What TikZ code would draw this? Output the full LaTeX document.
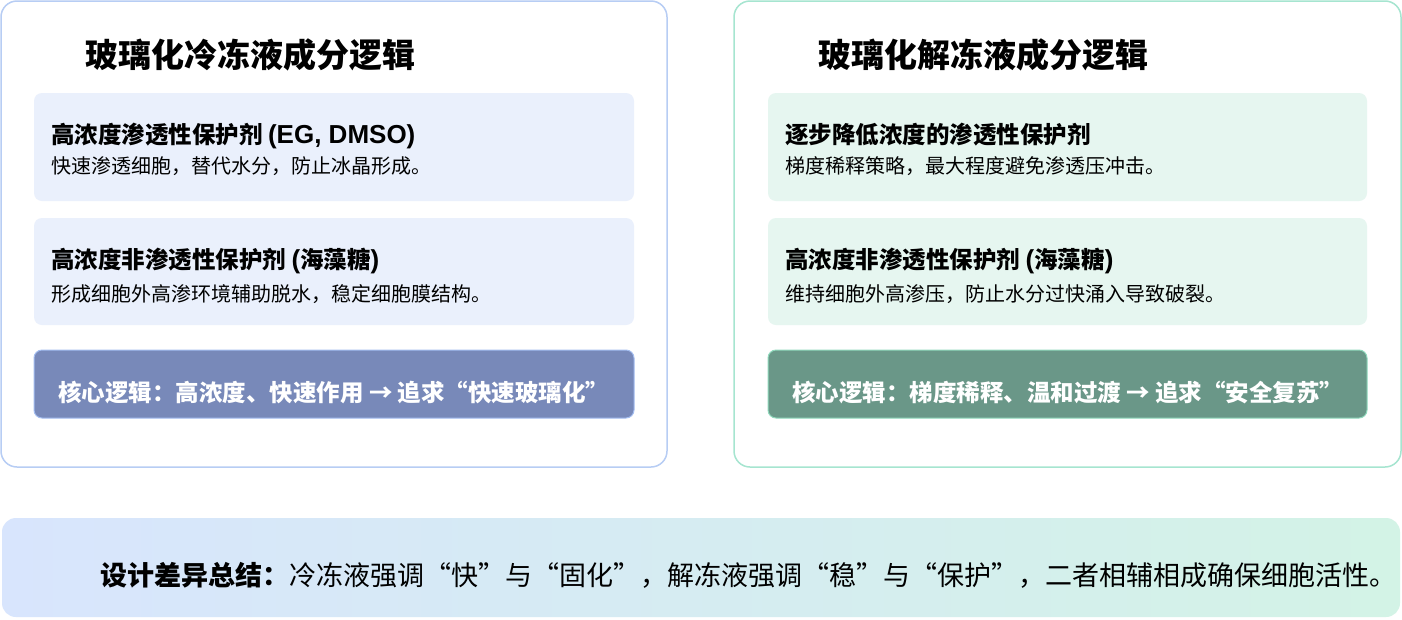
\documentclass[tikz,border=0pt]{standalone}
\usepackage{fontspec}
\setmainfont{Noto Sans CJK SC}
\newfontfamily\latinfont{Liberation Sans}
\newcommand{\lat}[1]{{\latinfont\bfseries\fontsize{26}{30}\selectfont #1}}
\usepackage{tikz}
\usetikzlibrary{positioning}

\definecolor{frameL}{HTML}{B7CDF4}
\definecolor{frameR}{HTML}{A6E5D0}
\definecolor{cardL}{HTML}{EAF0FC}
\definecolor{cardR}{HTML}{E6F6F0}
\definecolor{coreL}{HTML}{7889B9}
\definecolor{coreLedge}{HTML}{A3BDF0}
\definecolor{coreR}{HTML}{6A9788}
\definecolor{coreRedge}{HTML}{8FD9BC}
\definecolor{sumL}{HTML}{D8E5FD}
\definecolor{sumR}{HTML}{D3F3E6}

\begin{document}
\begin{tikzpicture}[x=1pt,y=-1pt,
  panel/.style={line width=1.5pt, rounded corners=16pt, fill=white},
  card/.style={rounded corners=8pt},
  title/.style={anchor=base west, inner sep=0pt, font=\fontsize{33}{40}\selectfont\bfseries},
  head/.style={anchor=base west, inner sep=0pt, font=\fontsize{23.5}{28}\selectfont\bfseries},
  desc/.style={anchor=base west, inner sep=0pt, font=\fontsize{20}{24}\selectfont},
  coretxt/.style={anchor=base west, inner sep=0pt, text=white, font=\fontsize{23.5}{28}\selectfont\bfseries},
  sumtxt/.style={anchor=base west, inner sep=0pt, font=\fontsize{27}{32}\selectfont}]
\useasboundingbox (0,0) rectangle (1402,619);
\fill[white] (0,0) rectangle (1402,619);

% left panel: cooling solution
\draw[panel, draw=frameL] (1,1) rectangle (667,467);
\node[title] (titleL) at (85,67) {玻璃化冷冻液成分逻辑};
\fill[card, cardL] (34,93) rectangle (634,201);
\node[head] (headL1) at (51,143) {高浓度渗透性保护剂 \lat{(EG, DMSO)}};
\node[desc] (descL1) at (51,173) {快速渗透细胞，替代水分，防止冰晶形成。};
\fill[card, cardL] (34,218) rectangle (634,325);
\node[head] (headL2) at (51,268) {高浓度非渗透性保护剂 \lat{(}海藻糖\lat{)}};
\node[desc] (descL2) at (51,301) {形成细胞外高渗环境辅助脱水，稳定细胞膜结构。};
\draw[card, fill=coreL, draw=coreLedge, line width=1pt] (34,350) rectangle (634,418);
\node[coretxt] (coreL) at (58,401) {核心逻辑：高浓度、快速作用 → 追求“快速玻璃化”};

% right panel: warming solution
\draw[panel, draw=frameR] (734,1) rectangle (1401,467);
\node[title] (titleR) at (818,67) {玻璃化解冻液成分逻辑};
\fill[card, cardR] (768,93) rectangle (1367,201);
\node[head] (headR1) at (785,143) {逐步降低浓度的渗透性保护剂};
\node[desc] (descR1) at (785,173) {梯度稀释策略，最大程度避免渗透压冲击。};
\fill[card, cardR] (768,218) rectangle (1367,325);
\node[head] (headR2) at (785,268) {高浓度非渗透性保护剂 \lat{(}海藻糖\lat{)}};
\node[desc] (descR2) at (785,301) {维持细胞外高渗压，防止水分过快涌入导致破裂。};
\draw[card, fill=coreR, draw=coreRedge, line width=1pt] (768,350) rectangle (1367,418);
\node[coretxt] (coreR) at (792,401) {核心逻辑：梯度稀释、温和过渡 → 追求“安全复苏”};

% summary bar
\shade[rounded corners=14pt, left color=sumL, right color=sumR] (2,518) rectangle (1400,617);
\node[sumtxt] (summary) at (100,585) {\textbf{设计差异总结：}冷冻液强调“快”与“固化”，解冻液强调“稳”与“保护”，二者相辅相成确保细胞活性。};
\end{tikzpicture}
\end{document}
